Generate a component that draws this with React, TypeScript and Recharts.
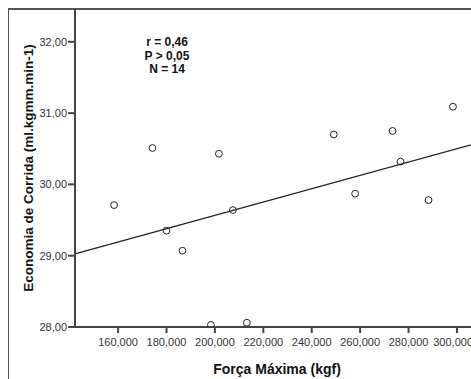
import React from "react";
import {
  ScatterChart,
  Scatter,
  XAxis,
  YAxis,
  ReferenceLine,
} from "recharts";

// ── Data ─────────────────────────────────────────────────

const FORCA = [
  158.35, 180.0, 186.6, 198.35, 207.44, 213.22, 174.2, 201.65, 249.1, 257.93,
  273.39, 276.7, 288.26, 298.35,
];
const ECONOMIA = [
  29.71, 29.35, 29.07, 28.03, 29.64, 28.06, 30.51, 30.43, 30.7, 29.87, 30.75,
  30.32, 29.78, 31.09,
];
const X_TICKS = [160, 180, 200, 220, 240, 260, 280, 300];
const Y_TICKS = [28, 29, 30, 31, 32];
const X_DOMAIN = [142.2, 305.8];
const Y_DOMAIN = [28, 32.46];
const STATS = ["r = 0,46", "P > 0,05", "N = 14"];

const points = FORCA.map((x, i) => ({ x, y: ECONOMIA[i] }));

// least squares fit line
function fitLine(xs: number[], ys: number[]) {
  const mx = xs.reduce((a, b) => a + b, 0) / xs.length;
  const my = ys.reduce((a, b) => a + b, 0) / ys.length;
  let sxy = 0;
  let sxx = 0;
  xs.forEach((x, i) => {
    sxy += (x - mx) * (ys[i] - my);
    sxx += (x - mx) * (x - mx);
  });
  const b = sxy / sxx;
  return (x: number) => my + b * (x - mx);
}
const fit = fitLine(FORCA, ECONOMIA);

// ── Styles ───────────────────────────────────────────────

const FONT = "'Liberation Sans', Arial, sans-serif";
const AXIS = "#444";
const TICK = { fill: "#333", fontSize: 11, fontFamily: FONT };

const fmtX = (v: number) => v.toFixed(3).replace(".", ",");
const fmtY = (v: number) => v.toFixed(2).replace(".", ",");

function Ring(props: any) {
  const { cx, cy } = props;
  return (
    <circle cx={cx} cy={cy} r={3.4} fill="none" stroke="#222" strokeWidth={1} />
  );
}

export default function App() {
  return (
    <div
      style={{
        position: "absolute",
        left: 0,
        top: 0,
        width: 471,
        height: 379,
        overflow: "hidden",
        background: "#fff",
        fontFamily: FONT,
      }}
    >
      <div
        style={{
          position: "absolute",
          left: 8,
          top: 8,
          width: 480,
          height: 400,
          borderLeft: "1px solid #555",
          borderTop: "2px solid #555",
        }}
      />
      <ScatterChart
        width={471}
        height={379}
        margin={{ top: 9, right: 0, bottom: 0, left: 0 }}
      >
        <XAxis
          type="number"
          dataKey="x"
          domain={X_DOMAIN}
          ticks={X_TICKS}
          tickFormatter={fmtX}
          allowDataOverflow
          height={52}
          tickSize={6}
          tickMargin={5}
          stroke={AXIS}
          strokeWidth={2}
          tick={TICK}
        />
        <YAxis
          type="number"
          dataKey="y"
          domain={Y_DOMAIN}
          ticks={Y_TICKS}
          tickFormatter={fmtY}
          allowDataOverflow
          width={75}
          tickSize={7}
          tickMargin={1}
          stroke={AXIS}
          strokeWidth={2}
          tick={TICK}
        />
        <ReferenceLine
          segment={[
            { x: X_DOMAIN[0], y: fit(X_DOMAIN[0]) },
            { x: X_DOMAIN[1], y: fit(X_DOMAIN[1]) },
          ]}
          stroke="#222"
          strokeWidth={1.3}
          ifOverflow="visible"
        />
        <Scatter data={points} shape={Ring} isAnimationActive={false} />
      </ScatterChart>

      <div
        style={{
          position: "absolute",
          left: 117,
          top: 36,
          width: 100,
          textAlign: "center",
          fontWeight: "bold",
          fontSize: 12,
          lineHeight: "13.5px",
          color: "#111",
        }}
      >
        {STATS.map((s) => (
          <div key={s}>{s}</div>
        ))}
      </div>

      <div
        style={{
          position: "absolute",
          left: 28,
          top: 168,
          transform: "translate(-50%, -50%) rotate(-90deg)",
          whiteSpace: "nowrap",
          fontWeight: "bold",
          fontSize: 13.5,
          color: "#111",
        }}
      >
        Economia de Corrida (ml.kgmm.min-1)
      </div>

      <div
        style={{
          position: "absolute",
          left: 277,
          top: 369,
          transform: "translate(-50%, -50%)",
          whiteSpace: "nowrap",
          fontWeight: "bold",
          fontSize: 14,
          color: "#111",
        }}
      >
        Força Máxima (kgf)
      </div>
    </div>
  );
}
